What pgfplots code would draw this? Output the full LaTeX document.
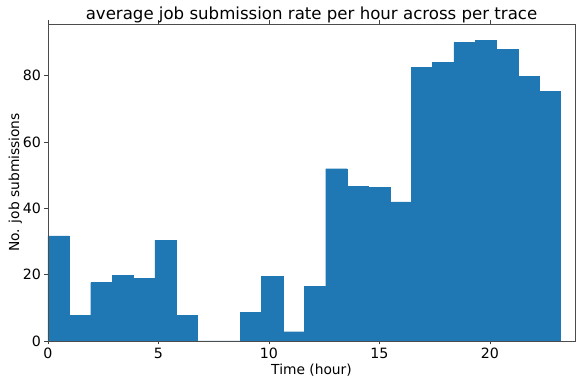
\documentclass[border=0pt]{standalone}
\usepackage{pgfplots}
\pgfplotsset{compat=1.18}
\usepackage{pgfplotstable}
\usepackage{fontspec}
\setmainfont{DejaVu Sans}

\definecolor{barblue}{HTML}{1F77B4}

% hourly histogram: left bin edge, count (last row closes the final bin)
\pgfplotstableread{
x        y
0.0000   31.7
0.9667   7.7
1.9333   17.6
2.9000   19.8
3.8667   18.8
4.8333   30.4
5.8000   7.8
6.7667   0
7.7333   0
8.7000   8.6
9.6667   19.5
10.6333  2.8
11.6000  16.4
12.5667  51.9
13.5333  46.5
14.5000  46.2
15.4667  41.9
16.4333  82.5
17.4000  84.0
18.3667  89.9
19.3333  90.5
20.3000  87.8
21.2667  79.7
22.2333  75.3
23.2000  75.3
}\hourly

\begin{document}
\begin{tikzpicture}
\begin{axis}[
  scale only axis,
  width=527pt, height=317pt,
  xmin=0, xmax=23.85,
  ymin=0, ymax=95.5,
  xtick={0,5,10,15,20},
  ytick={0,20,40,60,80},
  tick align=outside,
  major tick length=3.5pt,
  tick style={black!75, line width=0.6pt},
  axis line style={black!70, line width=0.6pt},
  /pgf/number format/assume math mode=true,
  tick label style={font=\fontsize{14.2}{16}\selectfont},
  label style={font=\fontsize{13.8}{16}\selectfont},
  title style={font=\fontsize{16.6}{19}\selectfont, yshift=-8pt},
  title={average job submission rate per hour across per trace},
  xlabel={Time (hour)},
  ylabel={No. job submissions},
  xlabel style={yshift=2pt},
  ylabel style={yshift=-6pt},
  axis on top,
]
\addplot[ybar interval, fill=barblue, draw=barblue, line width=0.3pt] table[x=x, y=y] {\hourly};
\end{axis}
\pgfresetboundingbox
\useasboundingbox ([xshift=-48pt, yshift=-42pt]current axis.south west) rectangle ([xshift=1pt, yshift=24pt]current axis.north east);
\end{tikzpicture}
\end{document}
